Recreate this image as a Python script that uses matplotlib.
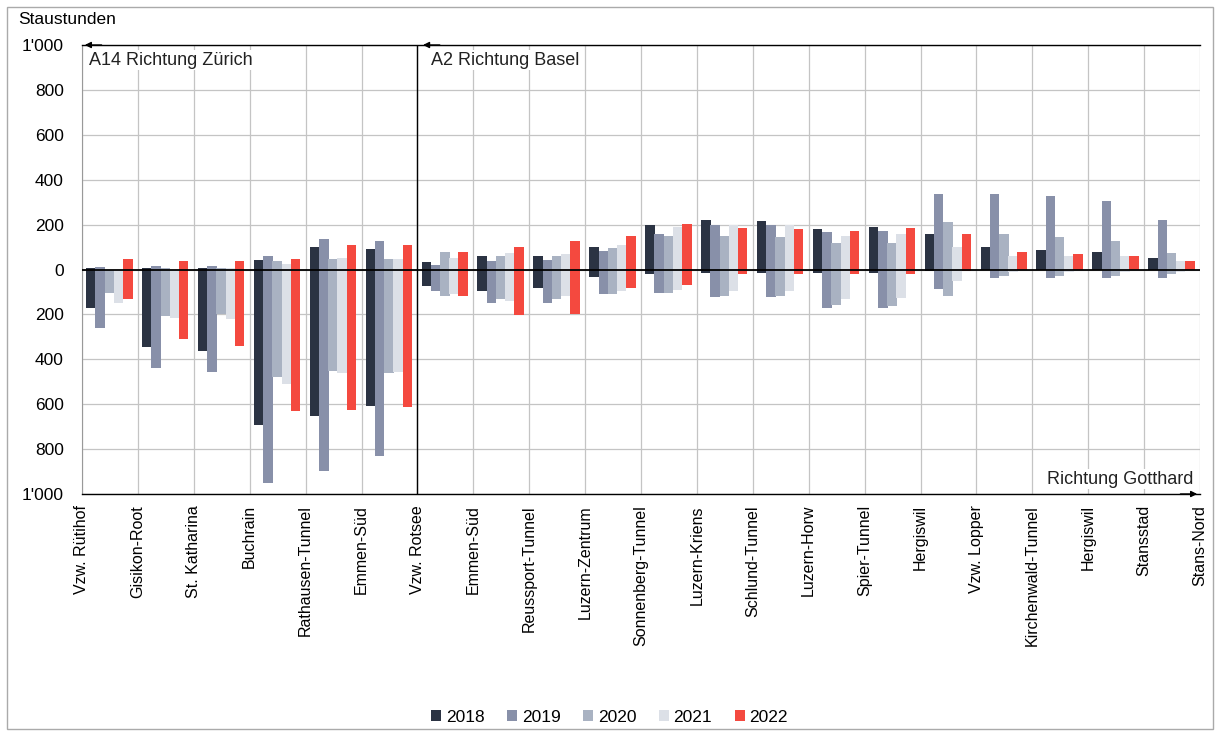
import numpy as np
import matplotlib.pyplot as plt
from matplotlib.patches import Rectangle

plt.rcParams['font.family'] = ['Liberation Sans', 'DejaVu Sans']

# Knoten entlang der Strecke (Grenzen der Abschnitte)
orte = ["Vzw. Rütihof", "Gisikon-Root", "St. Katharina", "Buchrain", "Rathausen-Tunnel",
        "Emmen-Süd", "Vzw. Rotsee", "Emmen-Süd", "Reussport-Tunnel", "Luzern-Zentrum",
        "Sonnenberg-Tunnel", "Luzern-Kriens", "Schlund-Tunnel", "Luzern-Horw", "Spier-Tunnel",
        "Hergiswil", "Vzw. Lopper", "Kirchenwald-Tunnel", "Hergiswil", "Stansstad", "Stans-Nord"]

jahre = ["2018", "2019", "2020", "2021", "2022"]

# Staustunden Richtung Zürich / Basel (positiv)
pos_2018 = [5, 5, 5, 41, 100, 93, 33, 59, 59, 99, 197, 219, 218, 181, 188, 159, 101, 86, 77, 49]
pos_2019 = [10, 15, 15, 62, 136, 129, 18, 37, 41, 81, 156, 200, 196, 167, 173, 338, 338, 329, 307, 222]
pos_2020 = [0, 5, 5, 37, 47, 47, 77, 62, 62, 96, 151, 148, 145, 116, 119, 212, 159, 145, 126, 74]
pos_2021 = [0, 0, 5, 25, 50, 45, 50, 75, 70, 110, 190, 200, 200, 150, 156, 100, 60, 60, 60, 40]
pos_2022 = [45, 37, 40, 47, 111, 111, 77, 100, 126, 151, 204, 185, 181, 173, 185, 159, 77, 70, 59, 36]

# Staustunden Richtung Gotthard (negativ)
neg_2018 = [-170, -343, -363, -693, -652, -610, -74, -96, -84, -33, -22, -15, -15, -15, -15, -7, -3, -3, -3, -3]
neg_2019 = [-260, -440, -455, -952, -896, -830, -96, -148, -151, -111, -104, -121, -121, -170, -170, -86, -37, -37, -37, -37]
neg_2020 = [-105, -205, -200, -481, -452, -459, -118, -133, -133, -111, -104, -118, -118, -156, -163, -116, -30, -30, -30, -22]
neg_2021 = [-150, -215, -220, -510, -460, -455, -110, -140, -120, -95, -90, -95, -95, -133, -126, -50, -10, -10, -10, -10]
neg_2022 = [-133, -311, -340, -630, -627, -612, -118, -204, -196, -81, -67, -22, -22, -22, -22, -7, 0, 0, 0, 0]

pos = [pos_2018, pos_2019, pos_2020, pos_2021, pos_2022]
neg = [neg_2018, neg_2019, neg_2020, neg_2021, neg_2022]
farben = ["#2b3343", "#8890a9", "#a9b2c2", "#dce0e7", "#f4493f"]

fig = plt.figure(figsize=(12.19, 7.35), dpi=100)
ax = fig.add_axes([82 / 1219, 1 - 494 / 735, 1118 / 1219, 449 / 735])

n = len(orte) - 1
x = np.arange(n)
for i in range(5):
    xi = x + 0.16 + i * 0.165
    ax.bar(xi, pos[i], width=0.17, color=farben[i], zorder=3, label=jahre[i])
    ax.bar(xi, neg[i], width=0.17, color=farben[i], zorder=3)

ax.set_xlim(0, n)
ax.set_ylim(-1000, 1000)
ax.set_yticks(np.arange(-1000, 1001, 200))
ax.set_yticklabels(["1'000", "800", "600", "400", "200", "0", "200", "400", "600", "800", "1'000"])
ax.set_xticks(np.arange(n + 1))
ax.set_xticklabels(orte, rotation=90, va='top', ha='center')
ax.tick_params(axis='x', length=0, labelsize=11.5, pad=8)
ax.tick_params(axis='y', length=0, labelsize=12.5, pad=13)
ax.grid(True, color="#c4c4c4", linewidth=0.9, zorder=0)
for s in ax.spines.values():
    s.set_visible(False)
ax.spines['left'].set_visible(True)
ax.spines['left'].set_color("#999999")

ax.axhline(0, color="black", linewidth=1.3, zorder=4)
ax.axvline(6, color="black", linewidth=1.0, zorder=4)

# Richtungspfeile
ax.plot([0, n], [1000, 1000], color="black", linewidth=1.0, clip_on=False, zorder=5)
ax.annotate("", xy=(0, 1000), xytext=(0.4, 1000),
            arrowprops=dict(arrowstyle="-|>", color="black", lw=1.0, mutation_scale=9), annotation_clip=False)
ax.annotate("", xy=(6.05, 1000), xytext=(6.45, 1000),
            arrowprops=dict(arrowstyle="-|>", color="black", lw=1.0, mutation_scale=9), annotation_clip=False)
ax.plot([0, n], [-1000, -1000], color="black", linewidth=1.0, clip_on=False, zorder=5)
ax.annotate("", xy=(n, -1000), xytext=(n - 0.4, -1000),
            arrowprops=dict(arrowstyle="-|>", color="black", lw=1.0, mutation_scale=9), annotation_clip=False)

ax.text(0.12, 932, "A14 Richtung Zürich", fontsize=13, va='center', ha='left', color="#222222", zorder=6,
        bbox=dict(facecolor="white", edgecolor="none", pad=1))
ax.text(6.25, 932, "A2 Richtung Basel", fontsize=13, va='center', ha='left', color="#222222", zorder=6,
        bbox=dict(facecolor="white", edgecolor="none", pad=1))
ax.text(n - 0.12, -935, "Richtung Gotthard", fontsize=13, va='center', ha='right', color="#222222", zorder=6,
        bbox=dict(facecolor="white", edgecolor="none", pad=1))

fig.text(18 / 1219, 1 - 20 / 735, "Staustunden", fontsize=12.5, va='center', ha='left')

leg = fig.legend(loc='center', bbox_to_anchor=(0.5, 1 - 717 / 735), ncol=5, frameon=False,
                 fontsize=12.5, handlelength=0.6, handleheight=0.6, handletextpad=0.25, columnspacing=1.3)

fig.patches.append(Rectangle((7 / 1219, 6 / 735), 1206 / 1219, 722 / 735, transform=fig.transFigure,
                             fill=False, edgecolor="#aaaaaa", linewidth=1.0))

fig.savefig("out.png", dpi=100)
